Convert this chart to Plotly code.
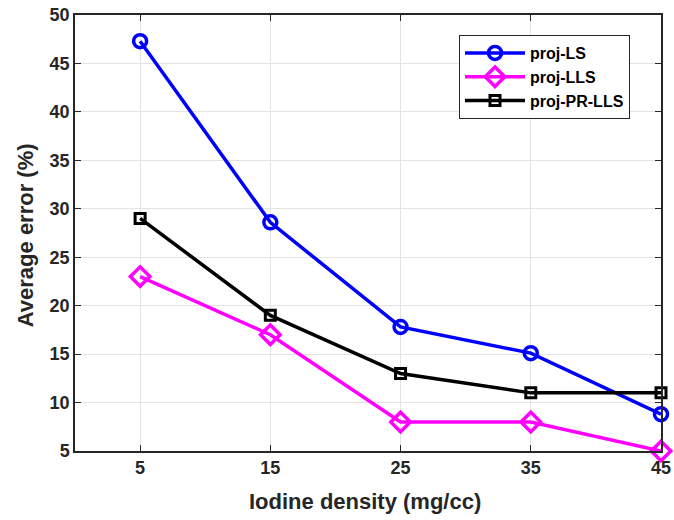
import plotly.graph_objects as go

x_vals = [5, 15, 25, 35, 45]
proj_ls = [47.3, 28.6, 17.8, 15.1, 8.8]
proj_lls = [23, 17, 8, 8, 5]
proj_pr_lls = [29, 19, 13, 11, 11]

x_ticks = [5, 15, 25, 35, 45]
y_ticks = [5, 10, 15, 20, 25, 30, 35, 40, 45, 50]

FONT = "Liberation Sans, Arial, sans-serif"

fig = go.Figure()
fig.add_trace(go.Scatter(x=x_vals, y=proj_ls, name="<b>proj-LS</b>", mode="lines+markers",
                         cliponaxis=False,
                         line=dict(color="#0000ff", width=3.5),
                         marker=dict(symbol="circle-open", size=13, line=dict(width=3.5, color="#0000ff"))))
fig.add_trace(go.Scatter(x=x_vals, y=proj_lls, name="<b>proj-LLS</b>", mode="lines+markers",
                         cliponaxis=False,
                         line=dict(color="#ff00ff", width=3.5),
                         marker=dict(symbol="diamond-open", size=15, line=dict(width=3.5, color="#ff00ff"))))
fig.add_trace(go.Scatter(x=x_vals, y=proj_pr_lls, name="<b>proj-PR-LLS</b>", mode="lines+markers",
                         cliponaxis=False,
                         line=dict(color="#000000", width=3.5),
                         marker=dict(symbol="square-open", size=10, line=dict(width=3, color="#000000"))))

fig.update_layout(
    width=674, height=520,
    margin=dict(l=75, r=13, t=15, b=68.5, autoexpand=False),
    paper_bgcolor="white", plot_bgcolor="white",
    font=dict(family=FONT, color="#262626"),
    legend=dict(x=(459 - 75) / 586, y=(451.5 - 35) / 436.5, xanchor="left", yanchor="top",
                bgcolor="white", bordercolor="#262626", borderwidth=1,
                font=dict(size=16, color="#000000", family=FONT),
                tracegroupgap=0, itemwidth=60),
    xaxis=dict(range=[0, 45], tickvals=x_ticks, ticktext=["<b>%d</b>" % v for v in x_ticks],
               showgrid=True, gridcolor="#e3e3e3", gridwidth=1, automargin=False,
               showline=True, linecolor="#262626", linewidth=1.5, mirror="ticks",
               ticks="inside", ticklen=6, tickcolor="#262626", ticklabeloverflow="allow",
               tickfont=dict(size=18, color="#262626", family=FONT), zeroline=False),
    yaxis=dict(range=[5, 50], tickvals=y_ticks, ticktext=["<b>%d</b>" % v for v in y_ticks],
               showgrid=True, gridcolor="#e3e3e3", gridwidth=1, automargin=False,
               showline=True, linecolor="#262626", linewidth=1.5, mirror="ticks",
               ticks="inside", ticklen=6, tickcolor="#262626", ticklabeloverflow="allow",
               tickfont=dict(size=18, color="#262626", family=FONT), zeroline=False),
    annotations=[
        dict(text="<b>Iodine density (mg/cc)</b>", xref="paper", yref="paper",
             x=(365 - 75) / 586, y=-(502 - 451.5) / 436.5, xanchor="center", yanchor="middle",
             showarrow=False, font=dict(size=22, color="#262626", family=FONT)),
        dict(text="<b>Average error (%)</b>", xref="paper", yref="paper",
             x=-(75 - 25) / 586, y=(451.5 - 235.5) / 436.5, xanchor="center", yanchor="middle",
             textangle=-90, showarrow=False, font=dict(size=22, color="#262626", family=FONT)),
    ],
)
# remove the default 8px page margin so the 674x520 figure fills the window exactly
fig.write_html("out.html", config={"displayModeBar": False},
               post_script="document.body.style.margin='0';")
